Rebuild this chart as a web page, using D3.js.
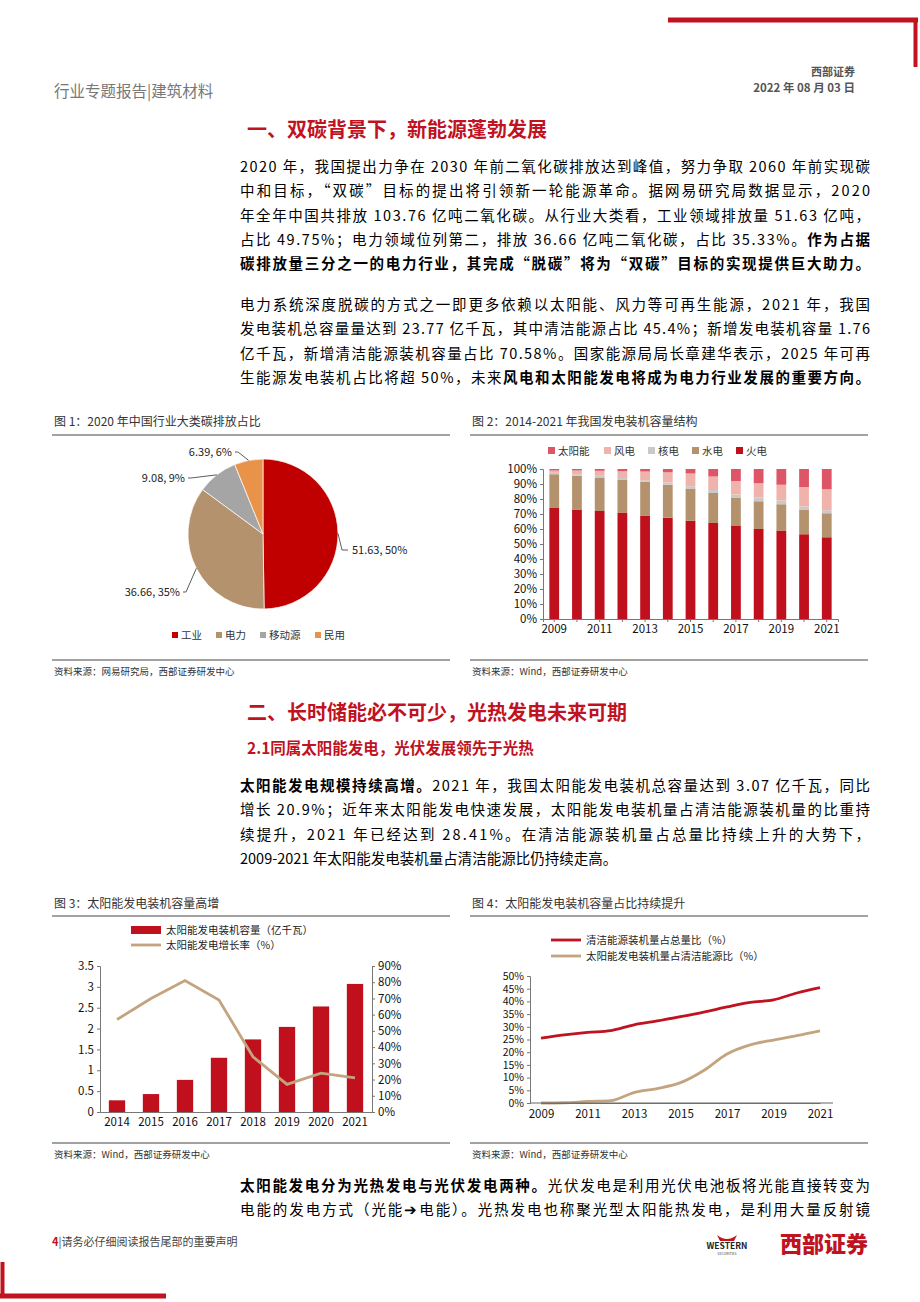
<!DOCTYPE html>
<html><head><meta charset="utf-8">
<script src="https://cdn.jsdelivr.net/npm/d3@7"></script>
<style>body{margin:0;background:#fff}svg{display:block}text{font-family:"Noto Sans CJK SC","Noto Sans",sans-serif}</style>
</head><body><svg id="p" width="920" height="1302"></svg>
<script>
// ---------- data ----------
const pieCats = ["工业","电力","移动源","民用"];
const pieVals = [51.63,36.66,9.08,6.39];
const pieLabels = ["51.63, 50%","36.66, 35%","9.08, 9%","6.39, 6%"];

const mixYears = ["2009","2010","2011","2012","2013","2014","2015","2016","2017","2018","2019","2020","2021"];
const mixSeries = ["火电","水电","核电","风电","太阳能"];
const fire    = [74,73,72,71,69,67.5,65.5,64,62,60,59,56.5,54.5];
const hydro   = [22.5,22.5,22,22,22.5,22,21.5,20,19,18.5,17.5,16.5,16];
const nuclear = [1,1,1.5,1,1,1.5,1.5,2,2,2.5,2.5,2,2];
const wind    = [1.5,2.5,3.3,4.5,5.8,6.8,8.5,9,9,9.5,10.5,13,14];
const solar   = [1,1,1.2,1.5,1.7,2.2,3,5,8,9.5,10.5,12,13.5];
const mixTicks = ["0%","10%","20%","30%","40%","50%","60%","70%","80%","90%","100%"];

const capYears = ["2014","2015","2016","2017","2018","2019","2020","2021"];
const capacity = [0.28,0.43,0.77,1.30,1.74,2.04,2.53,3.07];
const growth = [57,70,81,69,34,17,24,21];

const shareYears = mixYears;
const cleanShare = [25.5,26.8,27.8,28.5,30.8,32.3,34,35.8,37.8,39.6,40.6,43.3,45.4];
const solarShare = [0,0.1,0.6,0.9,4.1,5.7,8,12.8,19.3,22.9,24.8,26.5,28.4];

// ---------- page ----------
const svg = d3.select("#p");
const RED="#c0121f", TAN="#c4a37f";
function T(x,y,s,o={}){const t=svg.append("text").attr("x",x).attr("y",y).text(s)
 .attr("font-size",o.fs||12).attr("fill",o.c||"#000").attr("font-weight",o.w||400)
 .attr("text-anchor",o.a||"start");return t;}
function L(x1,y1,x2,y2,c,w){svg.append("line").attr("x1",x1).attr("y1",y1).attr("x2",x2).attr("y2",y2).attr("stroke",c).attr("stroke-width",w);}

L(668,20,918,20,RED,5); L(915.5,18,915.5,67,RED,4);
T(855,76,"西部证券",{fs:11,a:"end",c:"#555",w:700});
T(855,92,"2022 年 08 月 03 日",{fs:11.5,a:"end",c:"#555",w:700});
T(54,97,"行业专题报告|建筑材料",{fs:15.5,c:"#777"});
T(247,137,"一、双碳背景下，新能源蓬勃发展",{fs:20,c:RED,w:700});

function para(y,segs,just){const t=svg.append("text").attr("x",240).attr("y",y).attr("font-size",14.5);
 segs.forEach(s=>{const b=s.startsWith("*");t.append("tspan").attr("font-weight",b?700:400).text(b?s.slice(1):s);});
 if(just)t.attr("textLength",630).attr("lengthAdjust","spacing");}
const P1=[["2020 年，我国提出力争在 2030 年前二氧化碳排放达到峰值，努力争取 2060 年前实现碳"],
["中和目标，“双碳”目标的提出将引领新一轮能源革命。据网易研究局数据显示，2020"],
["年全年中国共排放 103.76 亿吨二氧化碳。从行业大类看，工业领域排放量 51.63 亿吨，"],
["占比 49.75%；电力领域位列第二，排放 36.66 亿吨二氧化碳，占比 35.33%。","*作为占据"],
["*碳排放量三分之一的电力行业，其完成“脱碳”将为“双碳”目标的实现提供巨大助力。"]];
P1.forEach((s,i)=>para(172+i*24.3,s,true));
const P2=[["电力系统深度脱碳的方式之一即更多依赖以太阳能、风力等可再生能源，2021 年，我国"],
["发电装机总容量量达到 23.77 亿千瓦，其中清洁能源占比 45.4%；新增发电装机容量 1.76"],
["亿千瓦，新增清洁能源装机容量占比 70.58%。国家能源局局长章建华表示，2025 年可再"],
["生能源发电装机占比将超 50%，未来","*风电和太阳能发电将成为电力行业发展的重要方向。"]];
P2.forEach((s,i)=>para(310+i*24.3,s,true));
T(247,720,"二、长时储能必不可少，光热发电未来可期",{fs:20,c:RED,w:700});
T(247,754,"2.1同属太阳能发电，光伏发展领先于光热",{fs:15.5,c:RED,w:700});
const P3=[["*太阳能发电规模持续高增。","2021 年，我国太阳能发电装机总容量达到 3.07 亿千瓦，同比"],
["增长 20.9%；近年来太阳能发电快速发展，太阳能发电装机量占清洁能源装机量的比重持"],
["续提升，2021  年已经达到  28.41%。在清洁能源装机量占总量比持续上升的大势下，"]];
P3.forEach((s,i)=>para(791+i*24.3,s,true));
para(864,["2009-2021 年太阳能发电装机量占清洁能源比仍持续走高。"],false);
para(1191,["*太阳能发电分为光热发电与光伏发电两种。","光伏发电是利用光伏电池板将光能直接转变为"],true);
para(1215,["电能的发电方式（光能➔电能）。光热发电也称聚光型太阳能热发电，是利用大量反射镜"],true);

// figure frames
function frame(x1,x2,yt,ytl,yb,title,src){T(x1+2,yt,title,{fs:12,c:"#333"});L(x1,ytl,x2,ytl,"#444",1);
 L(x1,yb,x2,yb,"#444",1);T(x1+2,yb+15,src,{fs:9.5,c:"#333"});}
frame(52,450,426,435,660,"图 1：2020 年中国行业大类碳排放占比","资料来源：网易研究局，西部证券研发中心");
frame(470,868,426,435,660,"图 2：2014-2021 年我国发电装机容量结构","资料来源：Wind，西部证券研发中心");
frame(52,450,908,916,1143,"图 3：太阳能发电装机容量高增","资料来源：Wind，西部证券研发中心");
frame(470,868,908,916,1143,"图 4：太阳能发电装机容量占比持续提升","资料来源：Wind，西部证券研发中心");

// ---------- pie ----------
const pc=["#c00000","#b4926d","#a5a5a5","#e8924a"];
const cx=263,cy=534,R=75;
const arcs=d3.pie().sort(null)(pieVals);
const arc=d3.arc().innerRadius(0).outerRadius(R);
const pg=svg.append("g").attr("transform",`translate(${cx},${cy})`);
pg.selectAll("path").data(arcs).join("path").attr("d",arc).attr("fill",(d,i)=>pc[i]).attr("stroke","#fff").attr("stroke-width",0.7);
const lblPos=[[352,554,"start"],[180,596,"end"],[185,482,"end"],[232,456,"end"]];
arcs.forEach((a,i)=>{const m=(a.startAngle+a.endAngle)/2;const px=cx+Math.sin(m)*R,py=cy-Math.cos(m)*R;
 const [lx,ly,an]=lblPos[i];const ex=an==="start"?lx-4:lx+3;
 svg.append("polyline").attr("points",`${px},${py} ${an==="start"?ex-6:ex+3},${ly-4} ${ex},${ly-4}`).attr("fill","none").attr("stroke","#333").attr("stroke-width",0.8);
 T(lx,ly,pieLabels[i],{fs:11,a:an,c:"#222",w:400}).attr("font-family","Liberation Sans");});
let lx0=172;pieCats.forEach((c,i)=>{svg.append("rect").attr("x",lx0).attr("y",632).attr("width",6).attr("height",6).attr("fill",pc[i]);
 T(lx0+9,639,c,{fs:10.5,c:"#333"});lx0+=c.length*11+22;});

// ---------- chart 2 stacked ----------
const mixColors={"火电":"#c0101e","水电":"#b4926d","核电":"#c9c9c9","风电":"#f0b3ac","太阳能":"#dd5566"};
const mixData=mixYears.map((y,i)=>({y,"火电":fire[i],"水电":hydro[i],"核电":nuclear[i],"风电":wind[i],"太阳能":solar[i]}));
const x2=d3.scaleBand().domain(mixYears).range([543,838]).paddingInner(0.57).paddingOuter(0.28);
const y2=d3.scaleLinear().domain([0,100]).range([619,469]);
const st=d3.stack().keys(mixSeries)(mixData);
svg.append("g").selectAll("g").data(st).join("g").attr("fill",d=>mixColors[d.key])
 .selectAll("rect").data(d=>d).join("rect").attr("x",d=>x2(d.data.y)).attr("width",x2.bandwidth())
 .attr("y",d=>y2(d[1])).attr("height",d=>y2(d[0])-y2(d[1]));
svg.append("g").attr("transform","translate(543,0)").call(d3.axisLeft(y2).tickValues(d3.range(0,101,10)).tickFormat((d,i)=>mixTicks[i]).tickSize(3));
svg.append("g").attr("transform","translate(0,619)").call(d3.axisBottom(x2).tickSize(3).tickFormat((d,i)=>i%2===0?d:""));
let lg=548;["太阳能","风电","核电","水电","火电"].forEach(k=>{svg.append("rect").attr("x",lg).attr("y",447).attr("width",7).attr("height",7).attr("fill",mixColors[k]);
 T(lg+10,455,k,{fs:10.5,c:"#333"});lg+=k.length*12+20;});

// ---------- chart 3 ----------
const x3=d3.scaleBand().domain(capYears).range([100,372]).paddingInner(0.52).paddingOuter(0.26);
const y3=d3.scaleLinear().domain([0,3.5]).range([1112,966]);
const y3r=d3.scaleLinear().domain([0,90]).range([1112,966]);
svg.append("g").selectAll("rect").data(capacity).join("rect").attr("fill","#c0101e")
 .attr("x",(d,i)=>x3(capYears[i])).attr("width",x3.bandwidth()).attr("y",d=>y3(d)).attr("height",d=>1112-y3(d));
svg.append("path").datum(growth).attr("fill","none").attr("stroke",TAN).attr("stroke-width",2.8)
 .attr("d",d3.line().x((d,i)=>x3(capYears[i])+x3.bandwidth()/2).y(d=>y3r(d)));
svg.append("g").attr("transform","translate(100,0)").call(d3.axisLeft(y3).tickValues(d3.range(0,3.51,0.5)).tickFormat(d=>d3.format("")(+d.toFixed(1))).tickSize(3));
svg.append("g").attr("transform","translate(372,0)").call(d3.axisRight(y3r).tickValues(d3.range(0,91,10)).tickFormat(d=>d+"%").tickSize(3));
svg.append("g").attr("transform","translate(0,1112)").call(d3.axisBottom(x3).tickSize(0).tickPadding(6));
svg.append("rect").attr("x",131).attr("y",926).attr("width",30).attr("height",8).attr("fill","#c0101e");
T(166,934,"太阳能发电装机容量（亿千瓦）",{fs:10.5,c:"#222"});
L(131,945,161,945,TAN,2.8);T(166,949,"太阳能发电增长率（%）",{fs:10.5,c:"#222"});

// ---------- chart 4 ----------
const x4=d3.scalePoint().domain(shareYears).range([541,820]);
const y4=d3.scaleLinear().domain([0,50]).range([1103,976]);
const ln=d3.line().x((d,i)=>x4(shareYears[i])).y(d=>y4(d)).curve(d3.curveMonotoneX);
svg.append("path").datum(cleanShare).attr("fill","none").attr("stroke",RED).attr("stroke-width",2.8).attr("d",ln);
svg.append("path").datum(solarShare).attr("fill","none").attr("stroke",TAN).attr("stroke-width",2.8).attr("d",ln);
const ay4=svg.append("g").attr("transform","translate(530,0)").call(d3.axisLeft(y4).tickValues(d3.range(0,51,5)).tickFormat(d=>d+"%").tickSize(3));
svg.append("g").attr("transform","translate(0,1103)").call(d3.axisBottom(x4).tickSize(0).tickPadding(7).tickFormat((d,i)=>i%2===0?d:""));
svg.append("line").attr("x1",530).attr("x2",833).attr("y1",1103).attr("y2",1103).attr("stroke","#666");
L(551,940,581,940,RED,2.8);T(586,944,"清洁能源装机量占总量比（%）",{fs:10.5,c:"#222"});
L(551,956,581,956,TAN,2.8);T(586,960,"太阳能发电装机量占清洁能源比（%）",{fs:10.5,c:"#222"});

svg.selectAll(".tick text").attr("font-family","Liberation Sans").attr("font-size",11.5).attr("fill","#111");
ay4.selectAll(".tick text").attr("font-size",10.5);
svg.selectAll(".domain").attr("stroke","#777");svg.selectAll(".tick line").attr("stroke","#777");

// ---------- footer ----------
const ft=svg.append("text").attr("x",52).attr("y",1246).attr("font-size",11);
ft.append("tspan").attr("fill",RED).attr("font-weight",700).text("4");
ft.append("tspan").attr("fill","#444").text("|请务必仔细阅读报告尾部的重要声明");
T(727,1249,"WESTERN",{fs:8.5,w:700,a:"middle",c:"#222"}).attr("font-family","Liberation Sans");
T(727,1255,"SECURITIES",{fs:3.5,a:"middle",c:"#444"});
svg.append("path").attr("d","M717 1235 q10 8 20 0 l-3 6 h-14z").attr("fill",RED);
T(868,1252,"西部证券",{fs:22,w:900,a:"end",c:RED});
L(0,1296,166,1296,RED,5); L(2.5,1262,2.5,1298,RED,4);
</script></body></html>
